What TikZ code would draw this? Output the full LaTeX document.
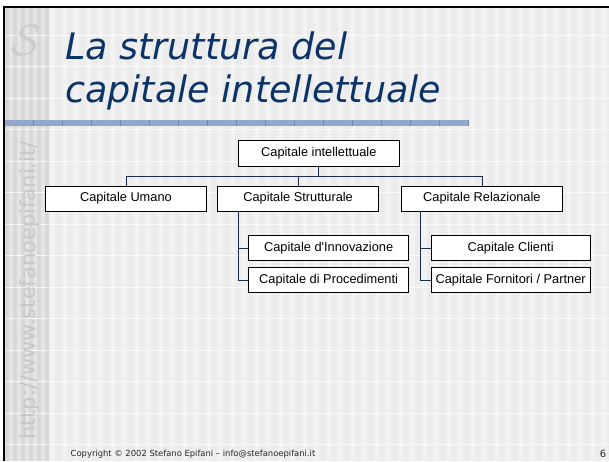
\documentclass[tikz,border=0pt]{standalone}
\usepackage{fontspec}
\setmainfont{Liberation Sans}
\newfontfamily\dejavu{DejaVu Sans}
\usetikzlibrary{calc}
\definecolor{titleblue}{RGB}{12,52,104}
\definecolor{bgmain}{RGB}{236,236,236}
\definecolor{bglight}{RGB}{242,242,242}
\definecolor{stripl}{RGB}{229,229,229}
\definecolor{stripd}{RGB}{216,216,216}
\definecolor{barblue}{RGB}{146,167,201}
\definecolor{bartick}{RGB}{112,136,180}
\definecolor{wmgray}{RGB}{200,200,200}
\definecolor{monogray}{RGB}{205,205,205}
\definecolor{connblue}{RGB}{30,45,75}
\definecolor{footgray}{RGB}{40,40,40}
\tikzset{
  orgbox/.style={draw=black, fill=white, line width=0.8pt, inner sep=0pt,
    minimum width=161pt, font=\fontsize{12.8}{15}\selectfont, text=black},
  conn/.style={draw=connblue, line width=0.8pt},
  titletext/.style={anchor=base west, inner sep=0pt, text=titleblue,
    font=\dejavu\itshape\fontsize{36.5}{43}\selectfont}
}
\begin{document}
\begin{tikzpicture}[x=1pt,y=-1pt]
\useasboundingbox (0,0) rectangle (609,461);
% background
\fill[white] (0,0) rectangle (609,461);
\fill[bgmain] (4,7) rectangle (609,461);
\foreach \x in {50,62,...,605} \fill[bglight] (\x,7) rectangle ++(5,454);
\fill[stripl] (5,7) rectangle (46,461);
\foreach \x in {5,13,...,45} \fill[stripd] (\x,7) rectangle ++(4,454);
\foreach \y in {35,66.5,...,450} \draw[white,opacity=.7,line width=.7] (5,\y) -- (609,\y);
% frame
\draw[black,line width=2pt] (3.7,461) -- (3.7,7) -- (609,7);
% monogram
\node[scale=4.4, text=monogray, inner sep=0pt] (mono) at (26,40) {$\mathcal{S}$};
% title bar
\fill[barblue] (5,119.5) rectangle (469,125.7);
\foreach \x in {33.3,62.3,...,469} \draw[bartick,line width=.6] (\x,119.5) -- (\x,125.7);
% title
\node[titletext] (t1) at (65,59) {La struttura del};
\node[titletext] (t2) at (65,102.3) {capitale intellettuale};
% watermark
\node[rotate=90, anchor=base west, inner sep=0pt, text=wmgray,
  font=\dejavu\fontsize{21}{21}\selectfont] (wm) at (35,440) {http://www.stefanoepifani.it/};
% org chart
\node[orgbox, minimum height=26pt] (top) at (318.8,153.2) {Capitale intellettuale};
\node[orgbox, minimum height=25pt] (umano) at (125.9,198.5) {Capitale Umano};
\node[orgbox, minimum height=25pt] (strutt) at (298.1,198.5) {Capitale Strutturale};
\node[orgbox, minimum height=25pt] (relaz) at (481.9,198.5) {Capitale Relazionale};
\node[orgbox, minimum height=24.5pt, minimum width=160.4pt] (innov) at (328.6,248) {Capitale d\textquotesingle Innovazione};
\node[orgbox, minimum height=24.8pt, minimum width=160.4pt] (proc) at (328.6,280.1) {Capitale di Procedimenti};
\node[orgbox, minimum height=24.5pt, minimum width=159.4pt] (clienti) at (510.6,248) {Capitale Clienti};
\node[orgbox, minimum height=24.8pt, minimum width=159.4pt] (forn) at (510.6,280.1) {Capitale Fornitori / Partner};
\coordinate (bus) at (0,176.5);
\coordinate (sv) at (238,0);
\coordinate (rv) at (420.5,0);
\draw[conn] (top.south) -- (top.south |- bus);
\draw[conn] (umano.north) -- (umano.north |- bus) -- (relaz.north |- bus) -- (relaz.north);
\draw[conn] (strutt.north) -- (strutt.north |- bus);
\draw[conn] (strutt.south -| sv) |- (proc.west);
\draw[conn] (innov.west) -- (innov.west -| sv);
\draw[conn] (relaz.south -| rv) |- (forn.west);
\draw[conn] (clienti.west) -- (clienti.west -| rv);
% footer
\node[anchor=base west, inner sep=0pt, text=footgray,
  font=\dejavu\fontsize{8.4}{10}\selectfont] (foot) at (70.5,456.5) {Copyright © 2002 Stefano Epifani – info@stefanoepifani.it};
\node[anchor=base east, inner sep=0pt, text=footgray,
  font=\dejavu\fontsize{10}{10}\selectfont] (pnum) at (606.5,457.3) {6};
\end{tikzpicture}
\end{document}
